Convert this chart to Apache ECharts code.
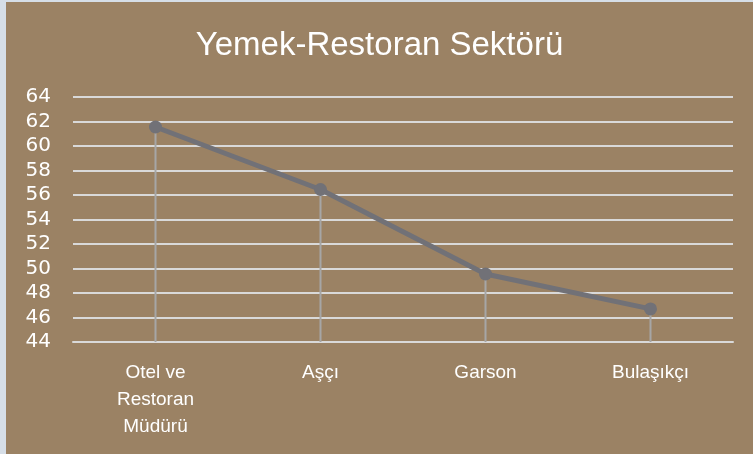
<!DOCTYPE html>
<html>
<head>
<meta charset="utf-8">
<script src="https://cdn.jsdelivr.net/npm/echarts@6/dist/echarts.min.js"></script>
<style>
  html, body { margin: 0; padding: 0; background: #d6dee7; }
  #main { position: absolute; left: 6px; top: 2px; width: 747px; height: 452px; background: #9b8264; }
</style>
</head>
<body>
<div id="main"></div>
<script>
const titleText = 'Yemek-Restoran Sektörü';
// tick labels, with the line breaks used in the original
const jobs = ['Otel ve\nRestoran\nMüdürü', 'Aşçı', 'Garson', 'Bulaşıkçı'];
const values = [61.55, 56.45, 49.55, 46.7];
const yMin = 44, yMax = 64, yStep = 2;

const sans = '"Liberation Sans", Arial, sans-serif';

const chart = echarts.init(document.getElementById('main'));

chart.setOption({
  animation: false,
  title: {
    text: titleText,
    left: 'center',
    top: 22,
    textStyle: { color: '#ffffff', fontFamily: sans, fontWeight: 'normal', fontSize: 33 }
  },
  grid: { left: 67, right: 20, top: 95, bottom: 112 },
  xAxis: {
    type: 'category',
    data: jobs,
    axisLine: { lineStyle: { color: '#d9d9d9', width: 2 } },
    axisTick: { show: false },
    axisLabel: {
      color: '#ffffff',
      fontFamily: sans,
      fontSize: 19,
      lineHeight: 27,
      margin: 17,
      interval: 0
    }
  },
  yAxis: {
    type: 'value',
    min: yMin,
    max: yMax,
    interval: yStep,
    axisLine: { show: false },
    axisTick: { show: false },
    splitLine: { lineStyle: { color: '#d9d9d9', width: 2 } },
    axisLabel: {
      color: '#ffffff',
      fontFamily: '"DejaVu Sans", sans-serif',
      fontSize: 20,
      margin: 22
    }
  },
  series: [
    {
      // drop lines
      type: 'bar',
      data: values,
      barWidth: 2,
      silent: true,
      itemStyle: { color: '#a6a6a6' },
      z: 1
    },
    {
      type: 'line',
      data: values,
      symbol: 'circle',
      symbolSize: 13,
      lineStyle: { color: '#717177', width: 5 },
      itemStyle: { color: '#717177' },
      z: 3
    }
  ]
});
</script>
</body>
</html>
